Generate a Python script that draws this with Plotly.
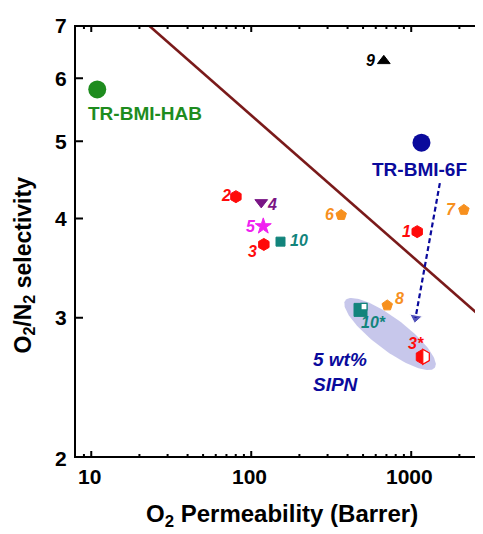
import numpy as np
import plotly.graph_objects as go

# ---------------- data ----------------
pts_name = ["1", "2", "3", "4", "5", "6", "7", "8", "9", "10", "10*", "3*"]
pts_perm = [1090, 80.2, 119.9, 115.5, 118.9, 365, 2134, 708, 674, 152.4, 482, 1181]
pts_sel = [3.85, 4.26, 3.71, 4.19, 3.91, 4.04, 4.10, 3.11, 6.31, 3.74, 3.07, 2.68]

main_name = ["TR-BMI-HAB", "TR-BMI-6F"]
main_perm = [10.9, 1159]
main_sel = [5.81, 4.98]

bound_perm = [20, 3000]          # Robeson 2008 upper bound (end points)
bound_sel = [7.16, 2.96]

arrow_perm = [1510, 1064]
arrow_sel = [4.43, 3.00]

x_ticks = [10, 100, 1000]
x_minor = [9, 20, 30, 40, 50, 60, 70, 80, 90,
           200, 300, 400, 500, 600, 700, 800, 900, 2000]
y_ticks = [2, 3, 4, 5, 6, 7]
x_range = [7.8, 2810]
y_range = [2, 7]

# ---------------- styles ----------------
RED = "#ff0a0a"
ORANGE = "#f7901e"
PURPLE = "#7a1585"
MAGENTA = "#f020f0"
TEAL = "#12847c"
INK = "#000000"
GREEN = "#1e8c1e"
NAVY = "#0a0a9c"
MAROON = "#7a1a1a"
FONT = "Liberation Sans, Arial, sans-serif"

pt_symbol = ["hexagon", "hexagon", "hexagon", "triangle-down", "star", "pentagon",
             "pentagon", "pentagon", "triangle-up", "square", "square", "hexagon"]
pt_color = [RED, RED, RED, PURPLE, MAGENTA, ORANGE, ORANGE, ORANGE, INK, TEAL, TEAL, RED]
pt_size = [12, 12, 12, 11, 12, 11, 11, 11, 11, 9, 13, 15]
# label offsets in pixels (dx, dy up)
lab_off = [(-11, 0), (-10, 1), (-11, -7), (11, -2), (-12, 0), (-12, 0), (-13, 0),
           (12, 7), (-13, 0), (18, 1), (13, -13), (-7, 13)]

# figure geometry (page body adds an 8px offset)
W, H = 475, 526
ML, MR, MT, MB = 66, 0, 17, 76
PX = (W - ML - MR) / np.log10(x_range[1] / x_range[0])   # px per decade, x
PY = (H - MT - MB) / np.log10(y_range[1] / y_range[0])   # px per decade, y


def xp(v, dpx):
    return 10 ** (np.log10(v) + dpx / PX)


def yp(v, dpx):
    return 10 ** (np.log10(v) + dpx / PY)


fig = go.Figure()

# highlight ellipse (5 wt% SIPN) : centre in data, axes in pixels, rotation
ell_c = (737, 2.863)
ell_a, ell_b, ell_rot = 56, 16, np.deg2rad(37)
t = np.linspace(0, 2 * np.pi, 120)
dx = ell_a * np.cos(t) * np.cos(ell_rot) - ell_b * np.sin(t) * np.sin(ell_rot)
dy = ell_a * np.cos(t) * np.sin(ell_rot) + ell_b * np.sin(t) * np.cos(ell_rot)
ex = xp(ell_c[0], dx)
ey = yp(ell_c[1], -dy)
fig.add_trace(go.Scatter(x=ex, y=ey, mode="lines", fill="toself",
                         fillcolor="rgba(180,180,228,0.75)", line=dict(width=0),
                         hoverinfo="skip"))

# upper bound line
fig.add_trace(go.Scatter(x=bound_perm, y=bound_sel, mode="lines",
                         line=dict(color=MAROON, width=2.6)))

# dashed arrow
fig.add_trace(go.Scatter(x=arrow_perm, y=arrow_sel, mode="lines+markers",
                         line=dict(color=NAVY, width=2.2, dash="5px,3px"),
                         marker=dict(symbol=["circle", "triangle-up"], size=[0, 11],
                                     color=NAVY, angleref="previous")))

# numbered points
fig.add_trace(go.Scatter(x=pts_perm, y=pts_sel, mode="markers",
                         marker=dict(symbol=pt_symbol, color=pt_color, size=pt_size,
                                     opacity=1, line=dict(color=pt_color, width=1))))

# main polymers
fig.add_trace(go.Scatter(x=main_perm, y=main_sel, mode="markers",
                         marker=dict(symbol="circle", color=[GREEN, NAVY], size=18)))

# ---- axis frame + inward ticks as one polyline trace (clipped to plot area) ----
fx, fy = [], []
xticks_all = sorted([(v, 7) for v in x_ticks] + [(v, 4) for v in x_minor])
# bottom axis
yb = yp(y_range[0], 1)
fx.append(xp(x_range[0], -6)); fy.append(yb)
for v, ln in xticks_all:
    fx += [v, v, v]; fy += [yb, yp(y_range[0], ln), yb]
fx.append(xp(x_range[1], 6)); fy.append(yb)
fx.append(None); fy.append(None)
# top axis
yt = yp(y_range[1], -1)
fx.append(xp(x_range[0], -6)); fy.append(yt)
for v, ln in xticks_all:
    fx += [v, v, v]; fy += [yt, yp(y_range[1], -ln), yt]
fx.append(xp(x_range[1], 6)); fy.append(yt)
fx.append(None); fy.append(None)
# left axis
xl = xp(x_range[0], 1)
fx.append(xl); fy.append(yp(y_range[0], -6))
for v in y_ticks[1:-1]:
    fx += [xl, xp(x_range[0], 9), xl]; fy += [v, v, v]
fx.append(xl); fy.append(yp(y_range[1], 6))
fx.append(None); fy.append(None)
# right-side ticks only (connections run outside the clip)
xo = xp(x_range[1], 8)
for v in y_ticks[1:-1]:
    fx += [xo, xp(x_range[1], -7), xo]; fy += [v, v, v]
fig.add_trace(go.Scatter(x=fx, y=fy, mode="lines", hoverinfo="skip",
                         line=dict(color=INK, width=2, simplify=False)))

annotations = []
for n, px, sy, (ox, oy), c in zip(pts_name, pts_perm, pts_sel, lab_off, pt_color):
    annotations.append(dict(x=np.log10(px), y=np.log10(sy), text=n, showarrow=False,
                            xshift=ox, yshift=oy, xref="x", yref="y",
                            font=dict(family=FONT, size=16, color=c,
                                      weight="bold", style="italic")))

annotations.append(dict(x=np.log10(main_perm[0]), y=np.log10(main_sel[0]), text="TR-BMI-HAB",
                        showarrow=False, xshift=48, yshift=-24, xref="x", yref="y",
                        font=dict(family=FONT, size=19, color=GREEN, weight="bold")))
annotations.append(dict(x=np.log10(main_perm[1]), y=np.log10(main_sel[1]), text="TR-BMI-6F",
                        showarrow=False, xshift=-2, yshift=-27, xref="x", yref="y",
                        font=dict(family=FONT, size=19, color=NAVY, weight="bold")))
annotations.append(dict(x=np.log10(ell_c[0]), y=np.log10(ell_c[1]),
                        text="5 wt%<br>SIPN", showarrow=False, align="left",
                        xanchor="left", xshift=-79, yshift=-38, xref="x", yref="y",
                        font=dict(family=FONT, size=19, color=NAVY,
                                  weight="bold", style="italic")))

# tick labels
tickfont = dict(family=FONT, size=21, color="black", weight="bold")
for v in x_ticks:
    annotations.append(dict(x=np.log10(v), xref="x", y=0, yref="paper", text=str(v),
                            showarrow=False, yanchor="middle", yshift=-18, xshift=-2,
                            font=tickfont))
for v in y_ticks:
    annotations.append(dict(x=0, xref="paper", y=np.log10(v), yref="y", text=str(v),
                            showarrow=False, xanchor="right", xshift=-5, font=tickfont))

# axis titles
annotations.append(dict(x=0.5, xref="paper", y=0, yref="paper", showarrow=False,
                        text="O<sub>2</sub> Permeability (Barrer)", xshift=3, yshift=-57,
                        yanchor="middle",
                        font=dict(family=FONT, size=24, color="black", weight="bold")))
annotations.append(dict(x=0, xref="paper", y=0.5, yref="paper", showarrow=False,
                        text="O<sub>2</sub>/N<sub>2</sub> selectivity", textangle=-90,
                        xanchor="center", yanchor="middle", xshift=-50, yshift=-24,
                        font=dict(family=FONT, size=23, color="black", weight="bold")))

# half-filled markers (white right half)
shapes = [
    dict(type="rect", xref="x", yref="y", xsizemode="pixel", ysizemode="pixel",
         xanchor=pts_perm[10], yanchor=pts_sel[10], x0=0.5, x1=6.5, y0=-6.5, y1=6.5,
         fillcolor="white", line=dict(color=TEAL, width=1.2), layer="above"),
    dict(type="path", xref="x", yref="y", xsizemode="pixel", ysizemode="pixel",
         xanchor=pts_perm[11], yanchor=pts_sel[11],
         path="M 0,-7.5 L 6.5,-3.75 L 6.5,3.75 L 0,7.5 Z",
         fillcolor="white", line=dict(color=RED, width=1.2), layer="above"),
]

fig.update_layout(
    width=W, height=H,
    margin=dict(l=ML, r=MR, t=MT, b=MB, autoexpand=False),
    paper_bgcolor="white", plot_bgcolor="white",
    showlegend=False,
    annotations=annotations, shapes=shapes,
    xaxis=dict(type="log", range=[np.log10(x_range[0]), np.log10(x_range[1])],
               showticklabels=False, ticks="", showline=False,
               showgrid=False, zeroline=False),
    yaxis=dict(type="log", range=[np.log10(y_range[0]), np.log10(y_range[1])],
               showticklabels=False, ticks="", showline=False,
               showgrid=False, zeroline=False),
)

fig.write_html("out.html")
